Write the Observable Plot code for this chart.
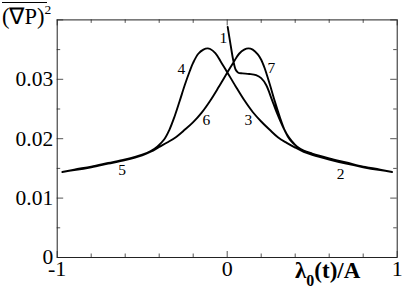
<!DOCTYPE html>
<html><head><meta charset="utf-8">
<script src="https://cdn.jsdelivr.net/npm/d3@7"></script>
<script src="https://cdn.jsdelivr.net/npm/@observablehq/plot@0.6"></script>
<style>body{margin:0;background:#fff}#chart{width:402px;height:289px}</style>
</head><body><div id="chart"></div>
<script>
// Segment 1 (label 1): starts near x=0 high, runs right to x=1
const seg1X = [0.003, 0.02, 0.035, 0.05, 0.065, 0.09, 0.13, 0.17, 0.2, 0.23, 0.26, 0.29, 0.32, 0.35, 0.38, 0.41, 0.45, 0.5, 0.6, 0.7, 0.8, 0.9, 0.97];
const seg1Y = [0.0388, 0.0358, 0.0333, 0.0316, 0.0311, 0.0310, 0.0309, 0.0307, 0.0302, 0.0290, 0.0268, 0.0245, 0.0225, 0.0208, 0.0196, 0.0187, 0.0180, 0.0174, 0.0166, 0.0159, 0.0153, 0.0148, 0.0144];
// Segment 2 (labels 2,3,4,5): left-peaked curve, traversed right to left
const seg2X = [-0.97, -0.9, -0.8, -0.7, -0.6, -0.5, -0.45, -0.41, -0.37, -0.34, -0.31, -0.28, -0.25, -0.22, -0.2, -0.17, -0.14, -0.115, -0.1, -0.07, -0.04, 0.0, 0.05, 0.1, 0.15, 0.2, 0.25, 0.3, 0.35, 0.4, 0.45, 0.5, 0.6, 0.7, 0.8, 0.9, 0.97];
const seg2Y = [0.0144, 0.0148, 0.0153, 0.0159, 0.0165, 0.0173, 0.0179, 0.0187, 0.0199, 0.0215, 0.0237, 0.0263, 0.0290, 0.0314, 0.0328, 0.0343, 0.0350, 0.0352, 0.0351, 0.0344, 0.0331, 0.0312, 0.0288, 0.0265, 0.0245, 0.0229, 0.0215, 0.0202, 0.0193, 0.0185, 0.0178, 0.0173, 0.0165, 0.0158, 0.0152, 0.0147, 0.0144];
// Segment 3 (labels 6,7): right-peaked curve, traversed left to right
const seg3X = [-0.97, -0.9, -0.8, -0.7, -0.6, -0.5, -0.45, -0.4, -0.35, -0.3, -0.25, -0.2, -0.15, -0.1, -0.05, 0.0, 0.04, 0.07, 0.1, 0.125, 0.15, 0.18, 0.2, 0.22, 0.25, 0.28, 0.31, 0.34, 0.37, 0.41, 0.45, 0.5, 0.6, 0.7, 0.8, 0.9, 0.97];
const seg3Y = [0.0144, 0.0147, 0.0152, 0.0158, 0.0164, 0.0172, 0.0178, 0.0186, 0.0194, 0.0203, 0.0215, 0.0228, 0.0244, 0.0264, 0.0287, 0.0311, 0.0330, 0.0343, 0.0350, 0.0352, 0.0350, 0.0342, 0.0333, 0.0319, 0.0292, 0.0263, 0.0236, 0.0213, 0.0198, 0.0187, 0.0180, 0.0175, 0.0167, 0.0160, 0.0153, 0.0148, 0.0144];

const curveLabels = ["1", "2", "3", "4", "5", "6", "7"];
const curveLabelX = [-0.022, 0.667, 0.124, -0.27, -0.618, -0.122, 0.26];
const curveLabelY = [0.0369, 0.0141, 0.0232, 0.0318, 0.01465, 0.0232, 0.0319];

const xMinorTicks = [-0.8, -0.6, -0.4, -0.2, 0.2, 0.4, 0.6, 0.8];
const xMajorTicks = [-1, 0, 1];
const xTickLabels = [-1, 0, 1];
const yMinorTicks = [0.005, 0.015, 0.025, 0.035];
const yMajorTicks = [0, 0.01, 0.02, 0.03, 0.04];
const yTickLabels = [0, 0.01, 0.02, 0.03];

const W = 402, H = 289, mL = 56.7, mR = 5.3, mT = 19.4, mB = 32;
const iW = W - mL - mR, iH = H - mT - mB;
const serif = "Liberation Serif";
const tickColor = "#555";

// ordered path: segment 1, then segment 2 right-to-left, then segment 3
const path = [];
seg1X.forEach((x, i) => path.push({x, y: seg1Y[i]}));
for (let i = seg2X.length - 1; i >= 0; i--) path.push({x: seg2X[i], y: seg2Y[i]});
seg3X.forEach((x, i) => path.push({x, y: seg3Y[i]}));

const idx = curveLabels.map((_, i) => i);

const svg = Plot.plot({
  width: W, height: H,
  marginLeft: mL, marginRight: mR, marginTop: mT, marginBottom: mB,
  x: {domain: [-1, 1]},
  y: {domain: [0, 0.04]},
  style: {background: "#fff", color: "#000"},
  marks: [
    Plot.tickX(xMinorTicks, {x: d => d, insetTop: iH - 3.5, stroke: tickColor}),
    Plot.tickX(xMajorTicks, {x: d => d, insetTop: iH - 6, stroke: tickColor}),
    Plot.tickX(xMinorTicks, {x: d => d, insetBottom: iH - 3.5, stroke: tickColor}),
    Plot.tickX(xMajorTicks, {x: d => d, insetBottom: iH - 6, stroke: tickColor}),
    Plot.tickY(yMinorTicks, {y: d => d, insetRight: iW - 3.5, stroke: tickColor}),
    Plot.tickY(yMajorTicks, {y: d => d, insetRight: iW - 6.5, stroke: tickColor}),
    Plot.tickY(yMinorTicks, {y: d => d, insetLeft: iW - 3.5, stroke: tickColor}),
    Plot.tickY(yMajorTicks, {y: d => d, insetLeft: iW - 6.5, stroke: tickColor}),
    Plot.frame({stroke: "#222", strokeWidth: 1}),
    Plot.axisY({ticks: yTickLabels, tickSize: 0, tickPadding: 4, fontSize: 21.5, label: null,
      fontFamily: serif, tickFormat: d => String(d)}),
    Plot.axisX({ticks: xTickLabels, tickSize: 0, tickPadding: 3, fontSize: 22, label: null,
      fontFamily: serif, tickFormat: d => String(d)}),
    Plot.line(path, {x: "x", y: "y", stroke: "#000", strokeWidth: 1.9, curve: "catmull-rom"}),
    Plot.text(idx, {x: i => curveLabelX[i], y: i => curveLabelY[i], text: i => curveLabels[i],
      fontSize: 15.5, fontFamily: serif, fill: "#000"})
  ]
});

const s = d3.select(svg);
// x axis title
const xt = s.append("text").attr("x", 295).attr("y", 278).attr("text-anchor", "start")
  .attr("font-family", serif).attr("font-weight", "bold").attr("font-size", 23).attr("fill", "#000");
xt.append("tspan").text("λ");
xt.append("tspan").attr("font-size", 16).attr("dy", 8).text("0");
xt.append("tspan").attr("dy", -8).text("(t)/A");
// y axis title
const yt = s.append("text").attr("x", 2).attr("y", 24).attr("text-anchor", "start")
  .attr("font-family", serif).attr("font-size", 22.5).attr("fill", "#000");
yt.append("tspan").text("(∇P)");
yt.append("tspan").attr("font-size", 13.5).attr("dy", -10).text("2");
s.append("path").attr("d", "M2,2.5H47").attr("stroke", "#000").attr("stroke-width", 1.2);

document.getElementById("chart").appendChild(svg);
</script>
</body></html>
